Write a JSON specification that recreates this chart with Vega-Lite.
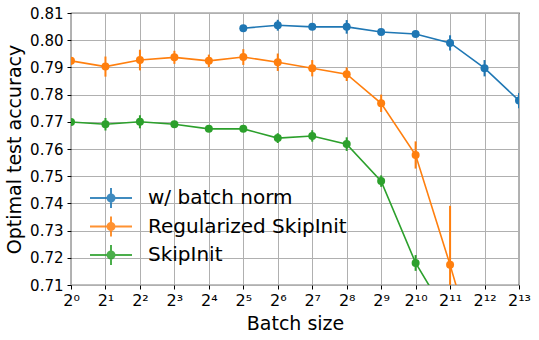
{
  "$schema": "https://vega.github.io/schema/vega-lite/v6.json",
  "width": 448,
  "height": 272,
  "autosize": {"type": "none"},
  "padding": {"left": 71, "top": 13, "right": 20, "bottom": 55},
  "background": "white",
  "config": {
    "font": "DejaVu Sans",
    "view": {"stroke": "black", "strokeWidth": 1.2},
    "axis": {
      "labelFont": "DejaVu Sans", "titleFont": "DejaVu Sans",
      "labelColor": "black", "titleColor": "black",
      "labelFontSize": 15, "titleFontSize": 19, "titleFontWeight": "normal",
      "tickColor": "black", "tickSize": 4, "tickWidth": 1,
      "domain": false, "labelOverlap": false,
      "gridColor": "#b0b0b0", "gridWidth": 1, "gridOpacity": 1
    }
  },
  "data": {
    "values": [
      {"size": 32, "acc": 0.8044, "lo": 0.8034, "hi": 0.8054, "series": "w/ batch norm"},
      {"size": 64, "acc": 0.8055, "lo": 0.8035, "hi": 0.8075, "series": "w/ batch norm"},
      {"size": 128, "acc": 0.8049, "lo": 0.8039, "hi": 0.8059, "series": "w/ batch norm"},
      {"size": 256, "acc": 0.8049, "lo": 0.8024, "hi": 0.8074, "series": "w/ batch norm"},
      {"size": 512, "acc": 0.8030, "lo": 0.8020, "hi": 0.8040, "series": "w/ batch norm"},
      {"size": 1024, "acc": 0.8023, "lo": 0.8013, "hi": 0.8033, "series": "w/ batch norm"},
      {"size": 2048, "acc": 0.7990, "lo": 0.7962, "hi": 0.8018, "series": "w/ batch norm"},
      {"size": 4096, "acc": 0.7897, "lo": 0.7867, "hi": 0.7927, "series": "w/ batch norm"},
      {"size": 8192, "acc": 0.7778, "lo": 0.7750, "hi": 0.7806, "series": "w/ batch norm"},
      {"size": 1, "acc": 0.7924, "lo": 0.7910, "hi": 0.7938, "series": "Regularized SkipInit"},
      {"size": 2, "acc": 0.7903, "lo": 0.7866, "hi": 0.7940, "series": "Regularized SkipInit"},
      {"size": 4, "acc": 0.7927, "lo": 0.7889, "hi": 0.7965, "series": "Regularized SkipInit"},
      {"size": 8, "acc": 0.7937, "lo": 0.7913, "hi": 0.7961, "series": "Regularized SkipInit"},
      {"size": 16, "acc": 0.7924, "lo": 0.7901, "hi": 0.7947, "series": "Regularized SkipInit"},
      {"size": 32, "acc": 0.7938, "lo": 0.7909, "hi": 0.7967, "series": "Regularized SkipInit"},
      {"size": 64, "acc": 0.7919, "lo": 0.7887, "hi": 0.7951, "series": "Regularized SkipInit"},
      {"size": 128, "acc": 0.7897, "lo": 0.7867, "hi": 0.7927, "series": "Regularized SkipInit"},
      {"size": 256, "acc": 0.7875, "lo": 0.7850, "hi": 0.7900, "series": "Regularized SkipInit"},
      {"size": 512, "acc": 0.7768, "lo": 0.7736, "hi": 0.7800, "series": "Regularized SkipInit"},
      {"size": 1024, "acc": 0.7578, "lo": 0.7528, "hi": 0.7628, "series": "Regularized SkipInit"},
      {"size": 2048, "acc": 0.7174, "lo": 0.6957, "hi": 0.7391, "series": "Regularized SkipInit"},
      {"size": 4096, "acc": 0.6740, "lo": 0.6700, "hi": 0.6780, "series": "Regularized SkipInit"},
      {"size": 1, "acc": 0.7699, "lo": 0.7689, "hi": 0.7709, "series": "SkipInit"},
      {"size": 2, "acc": 0.7691, "lo": 0.7668, "hi": 0.7714, "series": "SkipInit"},
      {"size": 4, "acc": 0.7700, "lo": 0.7676, "hi": 0.7724, "series": "SkipInit"},
      {"size": 8, "acc": 0.7691, "lo": 0.7681, "hi": 0.7701, "series": "SkipInit"},
      {"size": 16, "acc": 0.7674, "lo": 0.7664, "hi": 0.7684, "series": "SkipInit"},
      {"size": 32, "acc": 0.7674, "lo": 0.7664, "hi": 0.7684, "series": "SkipInit"},
      {"size": 64, "acc": 0.7640, "lo": 0.7622, "hi": 0.7658, "series": "SkipInit"},
      {"size": 128, "acc": 0.7648, "lo": 0.7627, "hi": 0.7669, "series": "SkipInit"},
      {"size": 256, "acc": 0.7618, "lo": 0.7593, "hi": 0.7643, "series": "SkipInit"},
      {"size": 512, "acc": 0.7482, "lo": 0.7461, "hi": 0.7503, "series": "SkipInit"},
      {"size": 1024, "acc": 0.7181, "lo": 0.7152, "hi": 0.7210, "series": "SkipInit"},
      {"size": 2048, "acc": 0.6970, "lo": 0.6950, "hi": 0.6990, "series": "SkipInit"}
    ]
  },
  "encoding": {
    "x": {
      "field": "size", "type": "quantitative",
      "scale": {"type": "log", "base": 2, "domain": [1, 8192], "nice": false},
      "axis": {
        "title": "Batch size", "titlePadding": 6,
        "values": [1, 2, 4, 8, 16, 32, 64, 128, 256, 512, 1024, 2048, 4096, 8192],
        "labelExpr": "'2' + ['⁰','¹','²','³','⁴','⁵','⁶','⁷','⁸','⁹','¹⁰','¹¹','¹²','¹³'][round(log(datum.value)/LN2)]",
        "labelFontSize": 16, "labelPadding": 3, "labelFlush": false
      }
    },
    "y": {
      "field": "acc", "type": "quantitative",
      "scale": {"domain": [0.71, 0.81], "nice": false, "zero": false},
      "axis": {
        "title": "Optimal test accuracy", "titlePadding": 5,
        "values": [0.71, 0.72, 0.73, 0.74, 0.75, 0.76, 0.77, 0.78, 0.79, 0.8, 0.81],
        "format": ".2f", "labelPadding": 4, "labelOverlap": false, "tickCount": 11
      }
    },
    "color": {
      "field": "series", "type": "nominal",
      "scale": {"domain": ["w/ batch norm", "Regularized SkipInit", "SkipInit"], "range": ["#1f77b4", "#ff7f0e", "#2ca02c"]},
      "legend": {
        "title": null, "orient": "none", "legendX": 29, "legendY": 174,
        "symbolType": "M-2.1,0H2.1M0,-1V1M0.35,0A0.35,0.35,0,1,1,-0.35,0A0.35,0.35,0,1,1,0.35,0Z",
        "symbolSize": 400, "symbolStrokeWidth": 2, "symbolOpacity": 0.85,
        "labelFont": "DejaVu Sans", "labelFontSize": 20, "labelColor": "black",
        "labelOffset": 26, "rowPadding": 0.5, "labelLimit": 400
      }
    }
  },
  "layer": [
    {
      "mark": {"type": "line", "strokeWidth": 1.6, "clip": true}
    },
    {
      "mark": {"type": "rule", "strokeWidth": 2, "clip": true},
      "encoding": {
        "y": {
          "field": "lo", "type": "quantitative",
          "axis": {
            "title": "Optimal test accuracy", "titlePadding": 5,
            "values": [0.71, 0.72, 0.73, 0.74, 0.75, 0.76, 0.77, 0.78, 0.79, 0.8, 0.81],
            "format": ".2f", "labelPadding": 4, "labelOverlap": false, "tickCount": 11
          }
        },
        "y2": {"field": "hi"}
      }
    },
    {
      "mark": {"type": "point", "filled": true, "opacity": 1, "size": 64, "clip": true}
    }
  ]
}
